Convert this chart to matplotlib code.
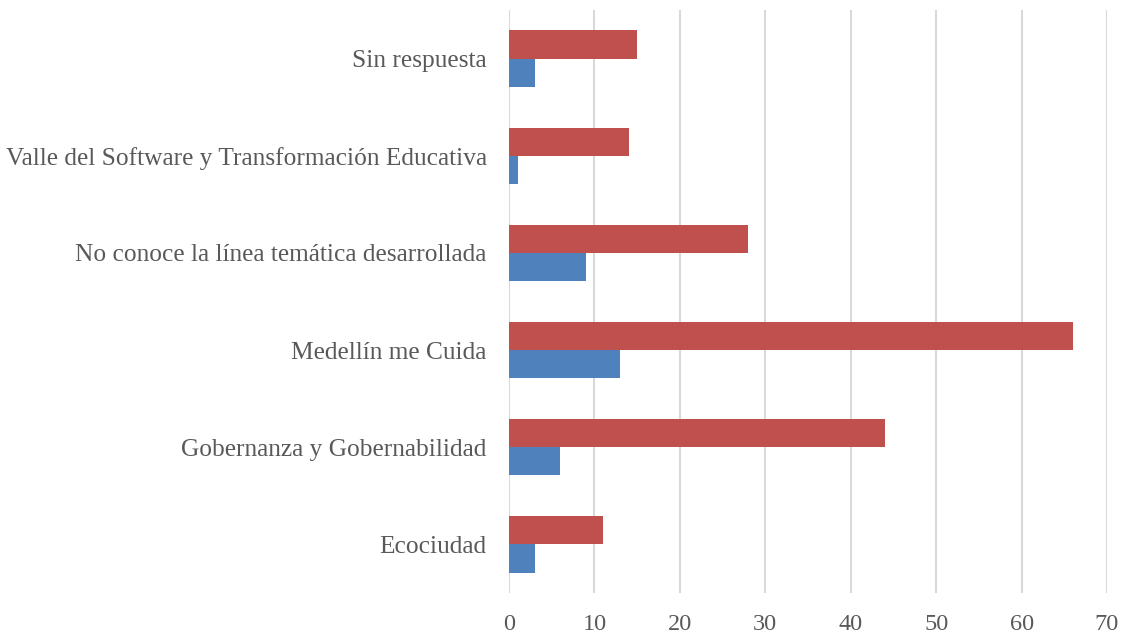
import matplotlib
matplotlib.use("Agg")
import matplotlib.pyplot as plt
import numpy as np

# categories bottom -> top, as in the chart
categories = ['Ecociudad', 'Gobernanza y Gobernabilidad', 'Medellín me Cuida',
              'No conoce la línea temática desarrollada',
              'Valle del Software y Transformación Educativa', 'Sin respuesta']
red_values = [11, 44, 66, 28, 14, 15]
blue_values = [3, 6, 13, 9, 1, 3]
x_ticks = [0, 10, 20, 30, 40, 50, 60, 70]

plt.rcParams['font.family'] = ['Liberation Serif', 'DejaVu Serif']

fig = plt.figure(figsize=(11.22, 6.37), dpi=100)
ax = fig.add_axes([509 / 1122, 1 - 593 / 637, (1107 - 509) / 1122, (593 - 10) / 637])

y = np.arange(len(categories))
h = 0.29
ax.barh(y + h / 2, red_values, height=h, color='#C0504D', zorder=3)
ax.barh(y - h / 2, blue_values, height=h, color='#4F81BD', zorder=3)

ax.set_xlim(0, 70)
ax.set_ylim(-0.5, 5.5)
ax.set_xticks(x_ticks)
ax.set_yticks(y)
ax.set_yticklabels(categories)
ax.xaxis.grid(True, color='#D9D9D9', linewidth=1.5, zorder=0)
for s in ax.spines.values():
    s.set_visible(False)
ax.tick_params(axis='both', length=0, labelcolor='#595959')
ax.tick_params(axis='x', pad=15, labelsize=17.5)
ax.tick_params(axis='y', pad=16, labelsize=18.3)

fig.savefig('out.png', dpi=100)
